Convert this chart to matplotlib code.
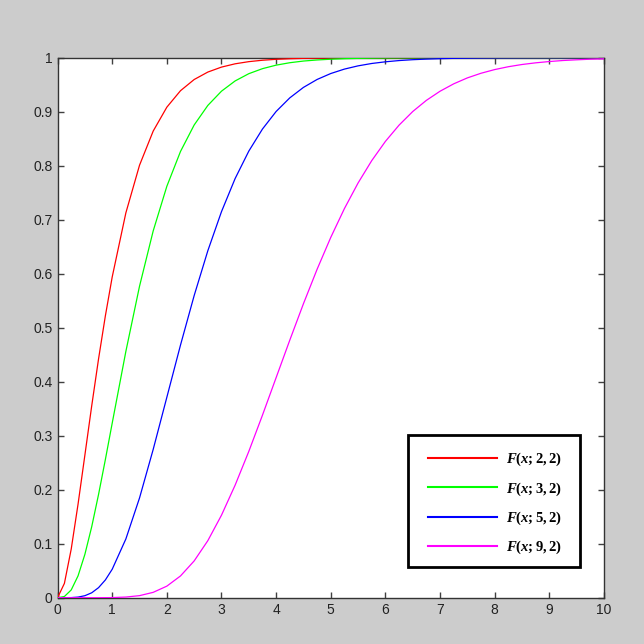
#!/usr/bin/env python3

"""
Four CDF curves F(x; k, 2) for k = 2, 3, 5, 9 on a MATLAB-like grey figure.
"""

import matplotlib
matplotlib.use("Agg")
import matplotlib.pyplot as plt
from matplotlib.patches import Rectangle

# x positions where the curves were read
x_vals = [0, 0.125, 0.25, 0.375, 0.5, 0.625, 0.75, 0.875, 1.0,
          1.25, 1.5, 1.75, 2.0, 2.25, 2.5, 2.75, 3.0, 3.25, 3.5, 3.75,
          4.0, 4.25, 4.5, 4.75, 5.0,
          5.25, 5.5, 5.75, 6.0, 6.25, 6.5, 6.75, 7.0, 7.25, 7.5,
          7.75, 8.0, 8.25, 8.5, 8.75, 9.0, 9.25, 9.5, 9.75, 10.0]

# curve values
f_2_2 = [0, 0.0265, 0.0902, 0.1734, 0.2642, 0.3554, 0.4422, 0.5221, 0.5940,
         0.7127, 0.8009, 0.8641, 0.9084, 0.9389, 0.9596, 0.9734, 0.9826, 0.9887, 0.9927, 0.9953,
         0.9970, 0.9981, 0.9988, 0.9992, 0.9995,
         0.9997, 0.9998, 0.9999, 0.9999, 1.0, 1.0, 1.0, 1.0, 1.0, 1.0,
         1.0, 1.0, 1.0, 1.0, 1.0, 1.0, 1.0, 1.0, 1.0, 1.0]
f_3_2 = [0, 0.0022, 0.0144, 0.0405, 0.0803, 0.1315, 0.1912, 0.2560, 0.3233,
         0.4562, 0.5768, 0.6792, 0.7619, 0.8264, 0.8754, 0.9116, 0.9380, 0.9570, 0.9704, 0.9797,
         0.9862, 0.9907, 0.9938, 0.9958, 0.9972,
         0.9982, 0.9988, 0.9992, 0.9995, 0.9997, 0.9998, 0.9999, 0.9999, 0.9999, 1.0,
         1.0, 1.0, 1.0, 1.0, 1.0, 1.0, 1.0, 1.0, 1.0, 1.0]
f_5_2 = [0, 0, 0.0002, 0.0011, 0.0037, 0.0091, 0.0186, 0.0329, 0.0527,
         0.1088, 0.1847, 0.2746, 0.3712, 0.4679, 0.5595, 0.6425, 0.7149, 0.7763, 0.8270, 0.8679,
         0.9004, 0.9256, 0.9450, 0.9597, 0.9707,
         0.9789, 0.9849, 0.9893, 0.9924, 0.9947, 0.9963, 0.9974, 0.9982, 0.9988, 0.9991,
         0.9994, 0.9996, 0.9997, 0.9998, 0.9999, 0.9999, 0.9999, 1.0, 1.0, 1.0]
f_9_2 = [0, 0, 0, 0, 0, 0, 0, 0.0001, 0.0002,
         0.0012, 0.0038, 0.0099, 0.0214, 0.0403, 0.0681, 0.1056, 0.1528, 0.2085, 0.2709, 0.3380,
         0.4075, 0.4769, 0.5444, 0.6082, 0.6672,
         0.7206, 0.7680, 0.8094, 0.8450, 0.8751, 0.9003, 0.9210, 0.9379, 0.9516, 0.9626,
         0.9712, 0.9780, 0.9833, 0.9874, 0.9905, 0.9929, 0.9948, 0.9961, 0.9972, 0.9979]

labels = [r"$F(x;2,2)$", r"$F(x;3,2)$", r"$F(x;5,2)$", r"$F(x;9,2)$"]
colors = ["#ff0000", "#00ff00", "#0000ff", "#ff00ff"]

x_ticks = list(range(0, 11))
x_tick_labels = [str(v) for v in x_ticks]
y_ticks = [i / 10 for i in range(0, 11)]
y_tick_labels = ["0", "0.1", "0.2", "0.3", "0.4", "0.5", "0.6", "0.7", "0.8", "0.9", "1"]

# bold serif math for the legend labels
plt.rcParams["mathtext.fontset"] = "custom"
plt.rcParams["mathtext.rm"] = "Liberation Serif:bold"
plt.rcParams["mathtext.it"] = "Liberation Serif:bold:italic"
plt.rcParams["font.family"] = ["Liberation Sans", "DejaVu Sans"]

fig = plt.figure(figsize=(6.44, 6.44), dpi=100, facecolor="#cccccc")
ax = fig.add_axes([0.0894, 0.0719, 0.8484, 0.8385])
ax.set_facecolor("white")

for ys, col, lab in zip([f_2_2, f_3_2, f_5_2, f_9_2], colors, labels):
    ax.plot(x_vals, ys, color=col, linewidth=0.9, label=lab, zorder=3)

ax.set_xlim(0, 10)
ax.set_ylim(0, 1)
ax.set_xticks(x_ticks)
ax.set_xticklabels(x_tick_labels)
ax.set_yticks(y_ticks)
ax.set_yticklabels(y_tick_labels)

ax.tick_params(direction="in", top=True, right=True, length=4.5, width=1,
               color="#404040", labelsize=10, labelcolor="#222222")
ax.tick_params(axis="x", pad=4)
ax.tick_params(axis="y", pad=3.5)
for sp in ax.spines.values():
    sp.set_color("#333333")
    sp.set_linewidth(1.0)

# legend box (frame drawn separately so the side margins match)
box = (0.641, 0.0569, 0.315, 0.244)
leg = ax.legend(loc="center", bbox_to_anchor=(0.643, 0.0523, 0.315, 0.244),
                fontsize=10.5, handlelength=4.7, handletextpad=0.6,
                labelspacing=0.82, borderpad=0.0, frameon=False)
leg.set_zorder(6)
for line in leg.get_lines():
    line.set_linewidth(1.5)
ax.add_patch(Rectangle(box[:2], box[2], box[3], transform=ax.transAxes,
                       facecolor="white", edgecolor="black", linewidth=2, zorder=5))

plt.savefig("out.png", dpi=100, facecolor=fig.get_facecolor())
